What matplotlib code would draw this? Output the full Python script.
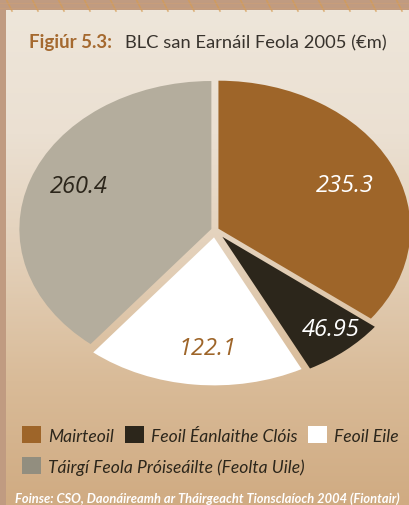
import numpy as np
import matplotlib.pyplot as plt
from matplotlib.patches import Patch
from matplotlib.colors import LinearSegmentedColormap

# data
labels = ["Mairteoil", "Feoil Éanlaithe Clóis", "Feoil Eile",
          "Táirgí Feola Próiseáilte (Feolta Uile)"]
values = [235.3, 46.95, 122.1, 260.4]
value_text = ["235.3", "46.95", "122.1", "260.4"]

colors = ["#9e6529", "#2c261b", "#ffffff", "#b4ad9d"]
legend_colors = ["#9e6529", "#2c261b", "#ffffff", "#928e7f"]
text_colors = ["#ffffff", "#ffffff", "#9e6529", "#2c261b"]
label_r = [0.74, 0.90, 0.80, 0.77]
label_da = [-2, 2, 3, -3]

W, H = 409, 506
fig = plt.figure(figsize=(W/100, H/100), dpi=100)
fig.patch.set_facecolor("#c09b81")

# background: outer grid frame + inner gradient panel
bg = fig.add_axes([0, 0, 1, 1])
bg.set_xlim(0, W); bg.set_ylim(H, 0); bg.axis("off")
for gx in np.arange(-20, W, 26):
    bg.plot([gx, gx + 6], [0, 12], color="#d59c55", lw=1.2, alpha=0.7)
for gy in [4, 9]:
    bg.plot([0, W], [gy, gy], color="#cc9f78", lw=0.8, alpha=0.6)
cmap = LinearSegmentedColormap.from_list(
    "panel", ["#eee6da", "#ebe0d2", "#e3d0b9", "#d9bb98", "#d0ab82"])
grad = np.linspace(0, 1, 256).reshape(-1, 1)
bg.imshow(grad, extent=[6, W, H, 11], cmap=cmap, aspect="auto", zorder=1)

# title
fig.text(29/W, 1 - 48/H, "Figiúr 5.3:", family="Lato", weight="bold",
         color="#a5692f", fontsize=13.5, va="baseline")
fig.text(125/W, 1 - 48/H, "BLC san Earnáil Feola 2005 (€m)", family="Lato",
         color="#38332d", fontsize=13.2, va="baseline")

# pie (elliptical)
cx, cy, rx, ry = 215, 231, 192, 148
lim = 1.1
ax = fig.add_axes([(cx - lim*rx)/W, 1 - (cy + lim*ry)/H, 2*lim*rx/W, 2*lim*ry/H])
ax.set_facecolor("none")
wedges, _ = ax.pie(values, colors=colors, startangle=90, counterclock=False,
                   explode=[0.02, 0.06, 0.05, 0.02],
                   wedgeprops=dict(linewidth=0))
ax.set_aspect("auto")
ax.set_xlim(-lim, lim); ax.set_ylim(-lim, lim)
ax.axis("off")
for w, txt, tc, r, da in zip(wedges, value_text, text_colors, label_r, label_da):
    a = np.deg2rad((w.theta1 + w.theta2)/2 + da)
    ax.text(r*np.cos(a), r*np.sin(a), txt, family="Open Sans", style="italic",
            fontsize=17, color=tc, ha="center", va="center")

# legend
handles = [Patch(facecolor=c, edgecolor="none") for c in legend_colors]
kw = dict(frameon=False, prop=dict(family="Lato", style="italic", size=12.6),
          labelcolor="#2c261b", handlelength=1.1, handleheight=1.1,
          handletextpad=0.4, borderaxespad=0, borderpad=0)
leg1 = fig.legend(handles[:3], labels[:3], ncol=3, columnspacing=0.6,
                  loc="center left", bbox_to_anchor=(22/W, 1 - 436/H), **kw)
leg2 = fig.legend(handles[3:], labels[3:], loc="center left",
                  bbox_to_anchor=(22/W, 1 - 467/H), **kw)

# source
fig.text(15/W, 1 - 503/H,
         "Foinse: CSO, Daonáireamh ar Tháirgeacht Tionsclaíoch 2004 (Fiontair)",
         family="Lato", style="italic", weight="bold", color="#ffffff",
         fontsize=9.25, va="baseline")

fig.savefig("out.png", dpi=100, facecolor=fig.get_facecolor())
